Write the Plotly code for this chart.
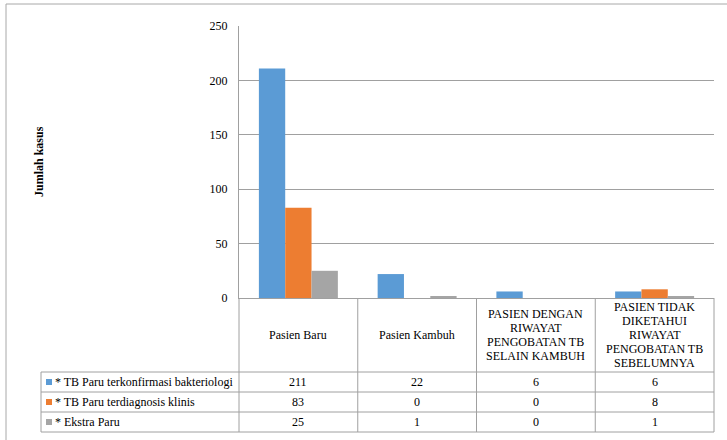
import plotly.graph_objects as go

# Kategori pasien (kolom tabel / sumbu x)
categories = ["Pasien Baru", "Pasien Kambuh",
              "PASIEN DENGAN RIWAYAT PENGOBATAN TB SELAIN KAMBUH",
              "PASIEN TIDAK DIKETAHUI RIWAYAT PENGOBATAN TB SEBELUMNYA"]
category_lines = [["Pasien Baru"],
                  ["Pasien Kambuh"],
                  ["PASIEN DENGAN", "RIWAYAT", "PENGOBATAN TB", "SELAIN KAMBUH"],
                  ["PASIEN TIDAK", "DIKETAHUI", "RIWAYAT", "PENGOBATAN TB", "SEBELUMNYA"]]

series_names = ["* TB Paru terkonfirmasi bakteriologi",
                "* TB Paru terdiagnosis klinis",
                "* Ekstra Paru"]
bakteriologi = [211, 22, 6, 6]
klinis = [83, 0, 0, 8]
ekstra_paru = [25, 1, 0, 1]
series_values = [bakteriologi, klinis, ekstra_paru]
series_colors = ["#5B9BD5", "#ED7D31", "#A5A5A5"]

y_ticks = [0, 50, 100, 150, 200, 250]
y_title = "Jumlah kasus"

W, H = 727, 440
PLOT_L, PLOT_R, PLOT_T, PLOT_B = 239, 714, 26, 298
FONT = "Liberation Serif"
LINE = "#a0a0a0"
LINE_H = 14  # header text line spacing (px)


def px(x):
    return (x - PLOT_L) / (PLOT_R - PLOT_L)


def py(y):
    return (PLOT_B - y) / (PLOT_B - PLOT_T)


fig = go.Figure()
for name, vals, col in zip(series_names, series_values, series_colors):
    fig.add_trace(go.Bar(x=categories, y=vals, name=name,
                         marker=dict(color=col, line=dict(width=0))))

shapes = []
annotations = []

# outer chart-area border
shapes.append(dict(type="rect", xref="paper", yref="paper",
                   x0=px(6), x1=px(740), y0=py(4), y1=py(460),
                   line=dict(color="#a8a8a8", width=1)))

# data table geometry
header_bottom = 372
row_edges = [372, 392, 412, 432]
table_left = 41
n = len(categories)
col_edges = [i / n for i in range(n + 1)]  # paper x of category boundaries

# vertical lines through header + data rows
for xe in col_edges:
    shapes.append(dict(type="line", xref="paper", yref="paper",
                       x0=xe, x1=xe, y0=py(PLOT_B), y1=py(row_edges[-1]),
                       line=dict(color=LINE, width=1)))
shapes.append(dict(type="line", xref="paper", yref="paper",
                   x0=px(table_left), x1=px(table_left),
                   y0=py(row_edges[0]), y1=py(row_edges[-1]),
                   line=dict(color=LINE, width=1)))
# horizontal row lines
for ye in row_edges:
    shapes.append(dict(type="line", xref="paper", yref="paper",
                       x0=px(table_left), x1=1, y0=py(ye), y1=py(ye),
                       line=dict(color=LINE, width=1)))

# category header labels, one annotation per line for tight spacing
header_mid = (PLOT_B + header_bottom) / 2
for cat, lines in zip(categories, category_lines):
    k = len(lines)
    for j, ln in enumerate(lines):
        yl = header_mid + (j - (k - 1) / 2) * LINE_H
        annotations.append(dict(x=cat, xref="x", y=py(yl), yref="paper",
                                text=ln, showarrow=False,
                                xanchor="center", yanchor="middle",
                                font=dict(family=FONT, size=12, color="black")))

# data rows: legend key, series name, values
for r, (name, vals, col) in enumerate(zip(series_names, series_values, series_colors)):
    yc = (row_edges[r] + row_edges[r + 1]) / 2
    shapes.append(dict(type="rect", xref="paper", yref="paper",
                       x0=px(46), x1=px(52), y0=py(yc - 3), y1=py(yc + 3),
                       fillcolor=col, line=dict(width=0)))
    annotations.append(dict(x=px(53), xref="paper", y=py(yc), yref="paper",
                            text=name, showarrow=False, xanchor="left",
                            yanchor="middle",
                            font=dict(family=FONT, size=12, color="black")))
    for cat, v in zip(categories, vals):
        annotations.append(dict(x=cat, xref="x", y=py(yc), yref="paper",
                                text=str(v), showarrow=False, xanchor="center",
                                yanchor="middle",
                                font=dict(family=FONT, size=12, color="black")))

# y-axis title
annotations.append(dict(x=px(39), xref="paper", y=0.5, yref="paper",
                        text="<b>" + y_title + "</b>", textangle=-90,
                        showarrow=False, xanchor="center", yanchor="middle",
                        font=dict(family=FONT, size=12, color="black")))

fig.update_layout(
    width=W, height=H,
    margin=dict(l=PLOT_L, r=W - PLOT_R, t=PLOT_T, b=H - PLOT_B, pad=0),
    paper_bgcolor="white", plot_bgcolor="white",
    barmode="group", bargap=0.335, bargroupgap=0,
    showlegend=False,
    shapes=shapes, annotations=annotations,
    font=dict(family=FONT, size=12, color="black"),
    xaxis=dict(range=[-0.5, n - 0.5], showticklabels=False, ticks="",
               showgrid=False, showline=True, linecolor=LINE, linewidth=1,
               zeroline=False, fixedrange=True),
    yaxis=dict(range=[0, 250], tickvals=y_ticks, showgrid=True,
               gridcolor=LINE, gridwidth=1, showline=True, linecolor=LINE,
               linewidth=1, zeroline=False, ticks="", ticklabelstandoff=8,
               tickfont=dict(family=FONT, size=12, color="black"),
               fixedrange=True),
)

fig.write_html("out.html")
